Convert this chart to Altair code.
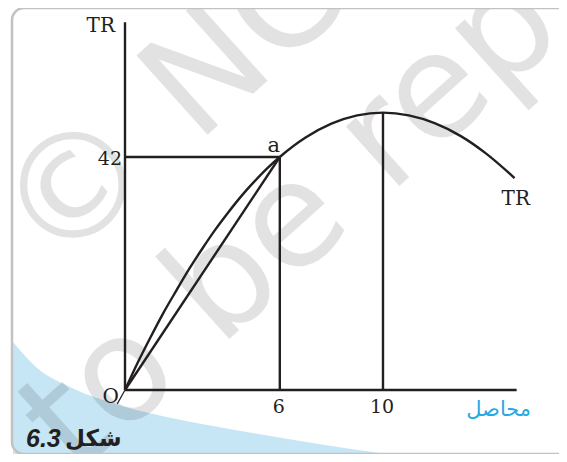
import altair as alt
import pandas as pd

# ---------------- chart values ----------------
q_curve = [0, 0.5, 1, 1.5, 2, 2.5, 3, 3.5, 4, 4.5, 5, 5.5, 6, 7, 8, 9, 10, 11, 12, 13, 14, 15.1]
tr_curve = [0, 5, 9.6, 14, 18, 21.9, 25.5, 28.9, 32, 34.9, 37.5, 39.9, 42, 45.5, 48, 49.5,
            50, 49.5, 48.1, 45.8, 42.6, 38.2]
point_a = (6, 42)
point_max = (10, 50)
x_ticks = [6, 10]
x_tick_labels = ["6", "10"]
y_ticks = [42]
y_tick_labels = ["42"]
x_axis_end = 15.18
y_axis_top = 66.3
y_title = "TR"
curve_label = "TR"
x_title = "محاصل"
caption_num = "6.3"
caption_word = "شکل"
watermark_1 = "© NCERT"
watermark_2 = "to be republished"

# ---------------- decoration shapes (plot pixels) ----------------
blue_px_x = [5, 28, 64, 111, 173, 245, 317, 372, 408, 440]
blue_px_y = [334, 359, 380, 397, 412, 425, 437, 445, 449, 452]

W, H = 551, 446
xs = alt.Scale(domain=[-4.535, 16.822], nice=False, zero=False)
ys = alt.Scale(domain=[-11.536, 68.85], nice=False, zero=False)
INK = "#231f20"


def X(f):
    return alt.X(f, type="quantitative", scale=xs, axis=None)


def Y(f):
    return alt.Y(f, type="quantitative", scale=ys, axis=None)


# blue corner region
blue_df = pd.DataFrame({"px": blue_px_x, "py": blue_px_y, "pb": [452] * len(blue_px_x)})
blue = alt.Chart(blue_df).mark_area(color="#c6e6f6", interpolate="monotone").encode(
    x=alt.X("px:Q", scale=None),
    y=alt.Y("py:Q", scale=None),
    y2="pb:Q",
)

# frame
frame = alt.Chart(pd.DataFrame({"k": [0]})).mark_rect(
    fill="transparent", stroke="#c2c2c2", strokeWidth=2.5, cornerRadius=12
).encode(x=alt.value(4), x2=alt.value(640), y=alt.value(0), y2=alt.value(446))

# watermark
wm = alt.Chart(pd.DataFrame({"t": [watermark_1, watermark_2], "px": [46, 68], "py": [265, 469]})).mark_text(
    font="DejaVu Sans", fontSize=146, angle=318, align="left", baseline="alphabetic",
    color="#000000", opacity=0.11
).encode(x=alt.X("px:Q", scale=None), y=alt.Y("py:Q", scale=None), text="t:N")

# axes and guide lines
seg = pd.DataFrame([
    {"x0": 0, "y0": 0, "x1": x_axis_end, "y1": 0},
    {"x0": 0, "y0": 0, "x1": 0, "y1": y_axis_top},
    {"x0": 0, "y0": point_a[1], "x1": point_a[0], "y1": point_a[1]},
    {"x0": point_a[0], "y0": 0, "x1": point_a[0], "y1": point_a[1]},
    {"x0": point_max[0], "y0": 0, "x1": point_max[0], "y1": point_max[1]},
    {"x0": 0, "y0": 0, "x1": point_a[0], "y1": point_a[1]},
])
rules = alt.Chart(seg).mark_rule(color=INK, strokeWidth=2.4).encode(
    x=X("x0"), y=Y("y0"), x2="x1:Q", y2="y1:Q"
)
tail = alt.Chart(pd.DataFrame({"x0": [0], "y0": [0], "x1": [-0.3], "y1": [-2.5]})).mark_rule(
    color=INK, strokeWidth=1.2
).encode(x=X("x0"), y=Y("y0"), x2="x1:Q", y2="y1:Q")

curve = alt.Chart(pd.DataFrame({"q": q_curve, "tr": tr_curve})).mark_line(
    color=INK, strokeWidth=2.4, interpolate="monotone"
).encode(x=X("q"), y=Y("tr"), order="q:Q")

SERIF = "DejaVu Serif"
xt = alt.Chart(pd.DataFrame({"q": x_ticks, "tr": [0] * len(x_ticks), "t": x_tick_labels})).mark_text(
    font=SERIF, fontSize=19, color=INK, align="center", baseline="alphabetic", dy=23, dx=-1
).encode(x=X("q"), y=Y("tr"), text="t:N")
yt = alt.Chart(pd.DataFrame({"q": [0] * len(y_ticks), "tr": y_ticks, "t": y_tick_labels})).mark_text(
    font=SERIF, fontSize=19, color=INK, align="right", baseline="alphabetic", dx=-3, dy=8
).encode(x=X("q"), y=Y("tr"), text="t:N")
ytitle = alt.Chart(pd.DataFrame({"q": [0], "tr": [y_axis_top], "t": [y_title]})).mark_text(
    font=SERIF, fontSize=20, color=INK, align="right", baseline="alphabetic", dx=-10, dy=10
).encode(x=X("q"), y=Y("tr"), text="t:N")
origin = alt.Chart(pd.DataFrame({"q": [0], "tr": [0], "t": ["O"]})).mark_text(
    font=SERIF, fontSize=20, color=INK, align="right", baseline="alphabetic", dx=-6, dy=13
).encode(x=X("q"), y=Y("tr"), text="t:N")
alab = alt.Chart(pd.DataFrame({"q": [point_a[0]], "tr": [point_a[1]], "t": ["a"]})).mark_text(
    font=SERIF, fontSize=21, color=INK, align="center", baseline="alphabetic", dx=-6, dy=-5
).encode(x=X("q"), y=Y("tr"), text="t:N")
clab = alt.Chart(pd.DataFrame({"q": [q_curve[-1]], "tr": [tr_curve[-1]], "t": [curve_label]})).mark_text(
    font=SERIF, fontSize=20, color=INK, align="left", baseline="alphabetic", dx=-13, dy=27
).encode(x=X("q"), y=Y("tr"), text="t:N")
xtitle = alt.Chart(pd.DataFrame({"q": [x_axis_end], "tr": [0], "t": [x_title]})).mark_text(
    font="DejaVu Sans", fontSize=21, color="#29a9e1", align="center", baseline="alphabetic", dx=-18, dy=26
).encode(x=X("q"), y=Y("tr"), text="t:N")

cap1 = alt.Chart(pd.DataFrame({"t": [caption_num]})).mark_text(
    font="Liberation Sans", fontSize=25, fontWeight="bold", fontStyle="italic", color=INK,
    align="left", baseline="alphabetic"
).encode(x=alt.value(18), y=alt.value(439), text="t:N")
cap2 = alt.Chart(pd.DataFrame({"t": [caption_word]})).mark_text(
    font="DejaVu Sans", fontSize=23, fontWeight="bold", color=INK,
    align="left", baseline="alphabetic"
).encode(x=alt.value(57), y=alt.value(438), text="t:N")

chart = alt.layer(
    blue, wm, frame, rules, tail, curve, xt, yt, ytitle, origin, alab, clab, xtitle, cap1, cap2
).properties(
    width=W, height=H, padding=0, autosize=alt.AutoSizeParams(type="none"), background="white"
).configure_view(stroke=None)

chart.save("out.html", embed_options={"renderer": "svg", "actions": False})
